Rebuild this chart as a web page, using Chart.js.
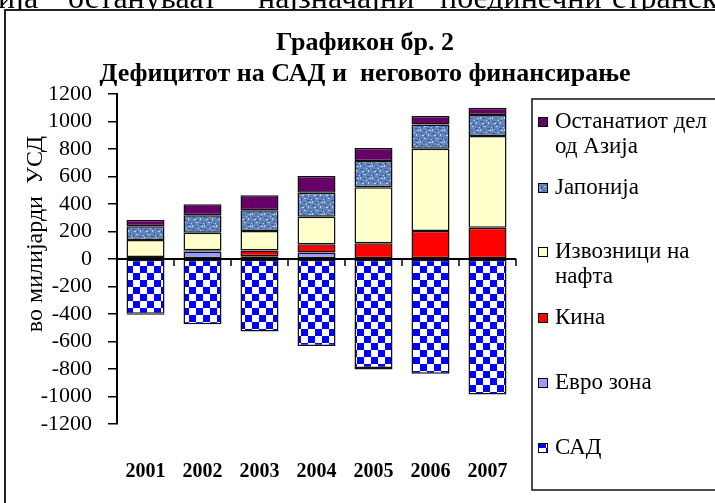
<!DOCTYPE html>
<html>
<head>
<meta charset="utf-8">
<script src="https://cdn.jsdelivr.net/npm/chart.js@4"></script>
<style>
html, body { margin: 0; padding: 0; background: #fff; overflow: hidden; }
#wrap { position: relative; width: 715px; height: 503px; overflow: hidden; }
#para { position: absolute; left: 0; top: 0; width: 715px; height: 10px; overflow: hidden;
        font-family: 'Liberation Serif', serif; font-size: 32px; color: #000; z-index: 2; }
#para span { position: absolute; top: -21px; white-space: nowrap; }
canvas { position: absolute; left: 0; top: 0; }
</style>
</head>
<body>
<div id="wrap">
  <div id="para">
    <span style="left:-2px">ија</span>
    <span style="left:68px">остануваат</span>
    <span style="left:258px">најзначајни</span>
    <span style="left:440px">поединечни</span>
    <span style="left:612px">странски</span>
  </div>
  <canvas id="chart" width="715" height="503"></canvas>
</div>
<script>
// data, in billions of USD
const years = ['2001', '2002', '2003', '2004', '2005', '2006', '2007'];
const usa = [-398, -475, -528, -632, -792, -834, -986];
const euroZone = [-8, 55, 20, 47, -12, 0, 0];
const china = [15, 8, 42, 60, 114, 204, 228];
const oilExporters = [123, 128, 142, 201, 407, 598, 666];
const japan = [100, 127, 150, 174, 191, 177, 153];
const restOfAsia = [45, 80, 109, 121, 95, 61, 53];

const yTicks = { min: -1200, max: 1200, step: 200 };

const chartTitle = ['Графикон бр. 2', 'Дефицитот на САД и  неговото финансирање'];
const yTitle = 'во милијарди  УСД';

// blue/white checkerboard for the US
function checkerPattern() {
    const c = document.createElement('canvas');
    c.width = 14; c.height = 14;
    const g = c.getContext('2d');
    g.fillStyle = '#fff';
    g.fillRect(0, 0, 14, 14);
    g.fillStyle = '#0000ff';
    g.fillRect(0, 0, 7, 7);
    g.fillRect(7, 7, 7, 7);
    return g.createPattern(c, 'repeat');
}

// mottled blue texture for Japan
function denimPattern() {
    const c = document.createElement('canvas');
    c.width = 12; c.height = 12;
    const g = c.getContext('2d');
    g.fillStyle = '#6486be';
    g.fillRect(0, 0, 12, 12);
    g.fillStyle = '#3b5b94';
    [[0, 1, 3, 1], [5, 3, 1, 3], [8, 0, 2, 1], [1, 6, 1, 3], [7, 8, 3, 1], [10, 5, 1, 2], [3, 10, 2, 1]]
        .forEach(r => g.fillRect(r[0], r[1], r[2], r[3]));
    g.fillStyle = '#c9d8ee';
    [[2, 3, 2, 1], [8, 2, 1, 2], [0, 9, 1, 2], [4, 6, 2, 1], [9, 10, 2, 1], [6, 0, 1, 1], [11, 7, 1, 1]]
        .forEach(r => g.fillRect(r[0], r[1], r[2], r[3]));
    return g.createPattern(c, 'repeat');
}

const canvas = document.getElementById('chart');
const ctx = canvas.getContext('2d');

const fills = {
    usa: checkerPattern(),
    euro: '#9999ff',
    china: '#ff0000',
    oil: '#ffffcc',
    japan: denimPattern(),
    rest: '#660066'
};

function series(label, data, fill) {
    return {
        label: label,
        data: data,
        backgroundColor: fill,
        borderColor: '#111',
        borderWidth: 1.5,
        borderSkipped: false,
        barPercentage: 1,
        categoryPercentage: 0.667
    };
}

// legend, top to bottom, as in the original
const legendItems = [
    { lines: ['Останатиот дел', 'од Азија'], fill: fills.rest, y: 122 },
    { lines: ['Јапонија'], fill: fills.japan, y: 188 },
    { lines: ['Извозници на', 'нафта'], fill: fills.oil, y: 252 },
    { lines: ['Кина'], fill: fills.china, y: 318 },
    { lines: ['Евро зона'], fill: fills.euro, y: 383 },
    { lines: ['САД'], fill: fills.usa, y: 448 }
];

const decor = {
    id: 'decor',
    beforeDraw(chart) {
        const c = chart.ctx;
        c.save();
        c.fillStyle = '#fff';
        c.fillRect(0, 0, chart.width, chart.height);
        c.restore();
    },
    afterDatasetsDraw(chart) {
        // zero line with category ticks hanging below it
        const c = chart.ctx;
        const xs = chart.scales.x;
        const y0 = chart.scales.y.getPixelForValue(0);
        const half = (xs.getPixelForTick(1) - xs.getPixelForTick(0)) / 2;
        c.save();
        c.strokeStyle = '#000';
        c.lineWidth = 2;
        c.beginPath();
        c.moveTo(chart.chartArea.left, y0);
        c.lineTo(chart.chartArea.right, y0);
        c.stroke();
        c.lineWidth = 1.5;
        c.beginPath();
        for (let i = 0; i < years.length; i++) {
            const bx = xs.getPixelForTick(i) + half;
            c.moveTo(bx, y0);
            c.lineTo(bx, y0 + 7);
        }
        c.stroke();
        c.restore();
    },
    afterDraw(chart) {
        const c = chart.ctx;
        c.save();
        // outer frame
        c.strokeStyle = '#222';
        c.lineWidth = 2;
        c.strokeRect(5, 10, 800, 600);

        // title
        c.fillStyle = '#000';
        c.textAlign = 'center';
        c.textBaseline = 'alphabetic';
        c.font = 'bold 26px "Liberation Serif"';
        c.fillText(chartTitle[0], 365, 50);
        c.fillText(chartTitle[1], 365, 81);

        // y axis title
        c.save();
        c.translate(36, 234);
        c.rotate(-Math.PI / 2);
        c.textBaseline = 'middle';
        c.font = '24px "Liberation Serif"';
        c.fillText(yTitle, 0, 0);
        c.restore();

        // legend box
        c.strokeStyle = '#111';
        c.lineWidth = 1.5;
        c.strokeRect(532, 99, 300, 391);
        c.textAlign = 'left';
        c.textBaseline = 'middle';
        c.font = '23px "Liberation Serif"';
        legendItems.forEach(item => {
            c.fillStyle = item.fill;
            c.fillRect(538, item.y - 5, 10, 10);
            c.lineWidth = 1;
            c.strokeStyle = '#000';
            c.strokeRect(538.5, item.y - 4.5, 9, 9);
            c.fillStyle = '#000';
            item.lines.forEach((t, k) => c.fillText(t, 555, item.y + k * 25));
        });
        c.restore();
    }
};

new Chart(ctx, {
    type: 'bar',
    data: {
        labels: years,
        datasets: [
            series('САД', usa, fills.usa),
            series('Евро зона', euroZone, fills.euro),
            series('Кина', china, fills.china),
            series('Извозници на нафта', oilExporters, fills.oil),
            series('Јапонија', japan, fills.japan),
            series('Останатиот дел од Азија', restOfAsia, fills.rest)
        ]
    },
    options: {
        responsive: false,
        animation: false,
        devicePixelRatio: 1,
        layout: { padding: { top: 94, right: 199, bottom: 0, left: 0 } },
        plugins: {
            legend: { display: false },
            title: { display: false },
            tooltip: { enabled: false }
        },
        scales: {
            x: {
                stacked: true,
                grid: { display: false, drawTicks: false },
                border: { display: false },
                ticks: {
                    color: '#000',
                    padding: 36,
                    maxRotation: 0,
                    font: { family: 'Liberation Serif', size: 20, weight: 'bold' }
                },
                afterFit(scale) { scale.height = 79; }
            },
            y: {
                stacked: true,
                min: yTicks.min,
                max: yTicks.max,
                ticks: {
                    stepSize: yTicks.step,
                    autoSkip: false,
                    color: '#000',
                    padding: 16,
                    font: { family: 'Liberation Serif', size: 22 },
                    callback: v => String(v)
                },
                grid: {
                    display: true,
                    drawOnChartArea: false,
                    drawTicks: true,
                    tickLength: 9,
                    color: '#000',
                    lineWidth: 1.5
                },
                border: { color: '#000', width: 2 },
                afterFit(scale) { scale.width = 117; }
            }
        }
    },
    plugins: [decor]
});
</script>
</body>
</html>
